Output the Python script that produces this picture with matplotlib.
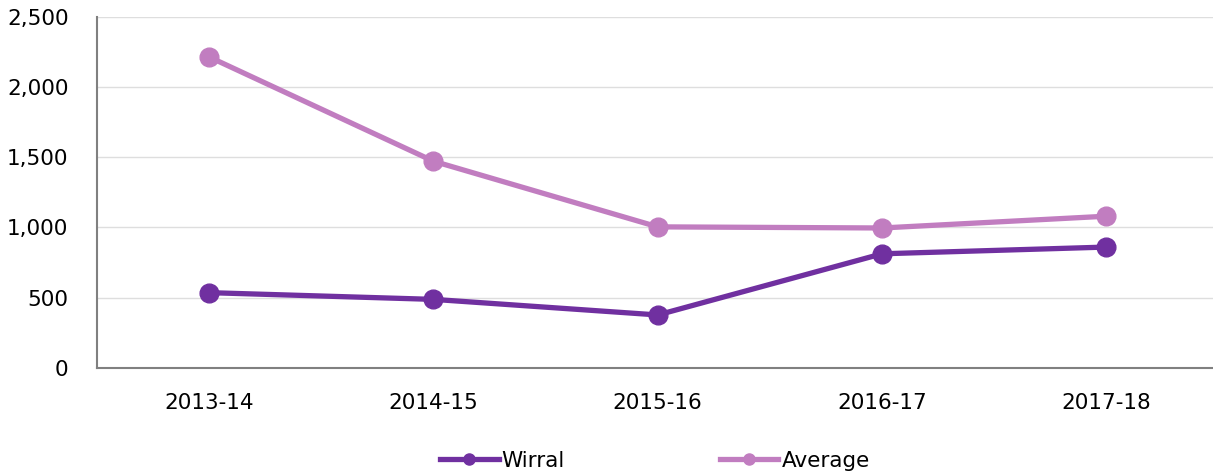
import matplotlib
matplotlib.use("Agg")
import matplotlib.pyplot as plt
from matplotlib.lines import Line2D

categories = ["2013-14", "2014-15", "2015-16", "2016-17", "2017-18"]
wirral = [535, 487, 376, 812, 860]
average = [2215, 1472, 1004, 996, 1080]
yticks = [0, 500, 1000, 1500, 2000, 2500]
series_names = ["Wirral", "Average"]
colors = ["#7030A0", "#C17DC0"]

plt.rcParams['font.family'] = ['DejaVu Sans']

fig = plt.figure(figsize=(12.13, 4.76), dpi=100)
ax = fig.add_axes([97/1213, 1 - 367.7/476, 1121.5/1213, (367.7 - 17)/476])

x = list(range(len(categories)))
for vals, name, c in zip([wirral, average], series_names, colors):
    ax.plot(x, vals, color=c, lw=3.8, marker='o', markersize=13.5, label=name,
            solid_capstyle='round', zorder=3)

ax.set_xlim(-0.5, len(categories) - 0.5)
ax.set_ylim(0, 2500)
ax.set_yticks(yticks)
ax.set_yticklabels([f"{v:,}" for v in yticks])
ax.set_xticks(x)
ax.set_xticklabels(categories)
ax.tick_params(axis='both', length=0, labelsize=15.5, colors='#000000')
ax.tick_params(axis='y', pad=20.5)
ax.tick_params(axis='x', pad=18)
ax.grid(axis='y', color='#DEDEDE', lw=1.0)
ax.set_axisbelow(True)
for s in ['top', 'right']:
    ax.spines[s].set_visible(False)
for s in ['left', 'bottom']:
    ax.spines[s].set_color('#808080')
    ax.spines[s].set_linewidth(1.5)

handles = [Line2D([], [], color=c, lw=3.8, marker='o', markersize=8) for c in colors]
fig.legend(handles, series_names, loc='center', bbox_to_anchor=(655/1213, 1 - 461/476),
           ncol=2, frameon=False, fontsize=15.5, handlelength=2.7, handletextpad=0.15,
           columnspacing=7.2, borderpad=0)

fig.savefig("out.png", dpi=100)
